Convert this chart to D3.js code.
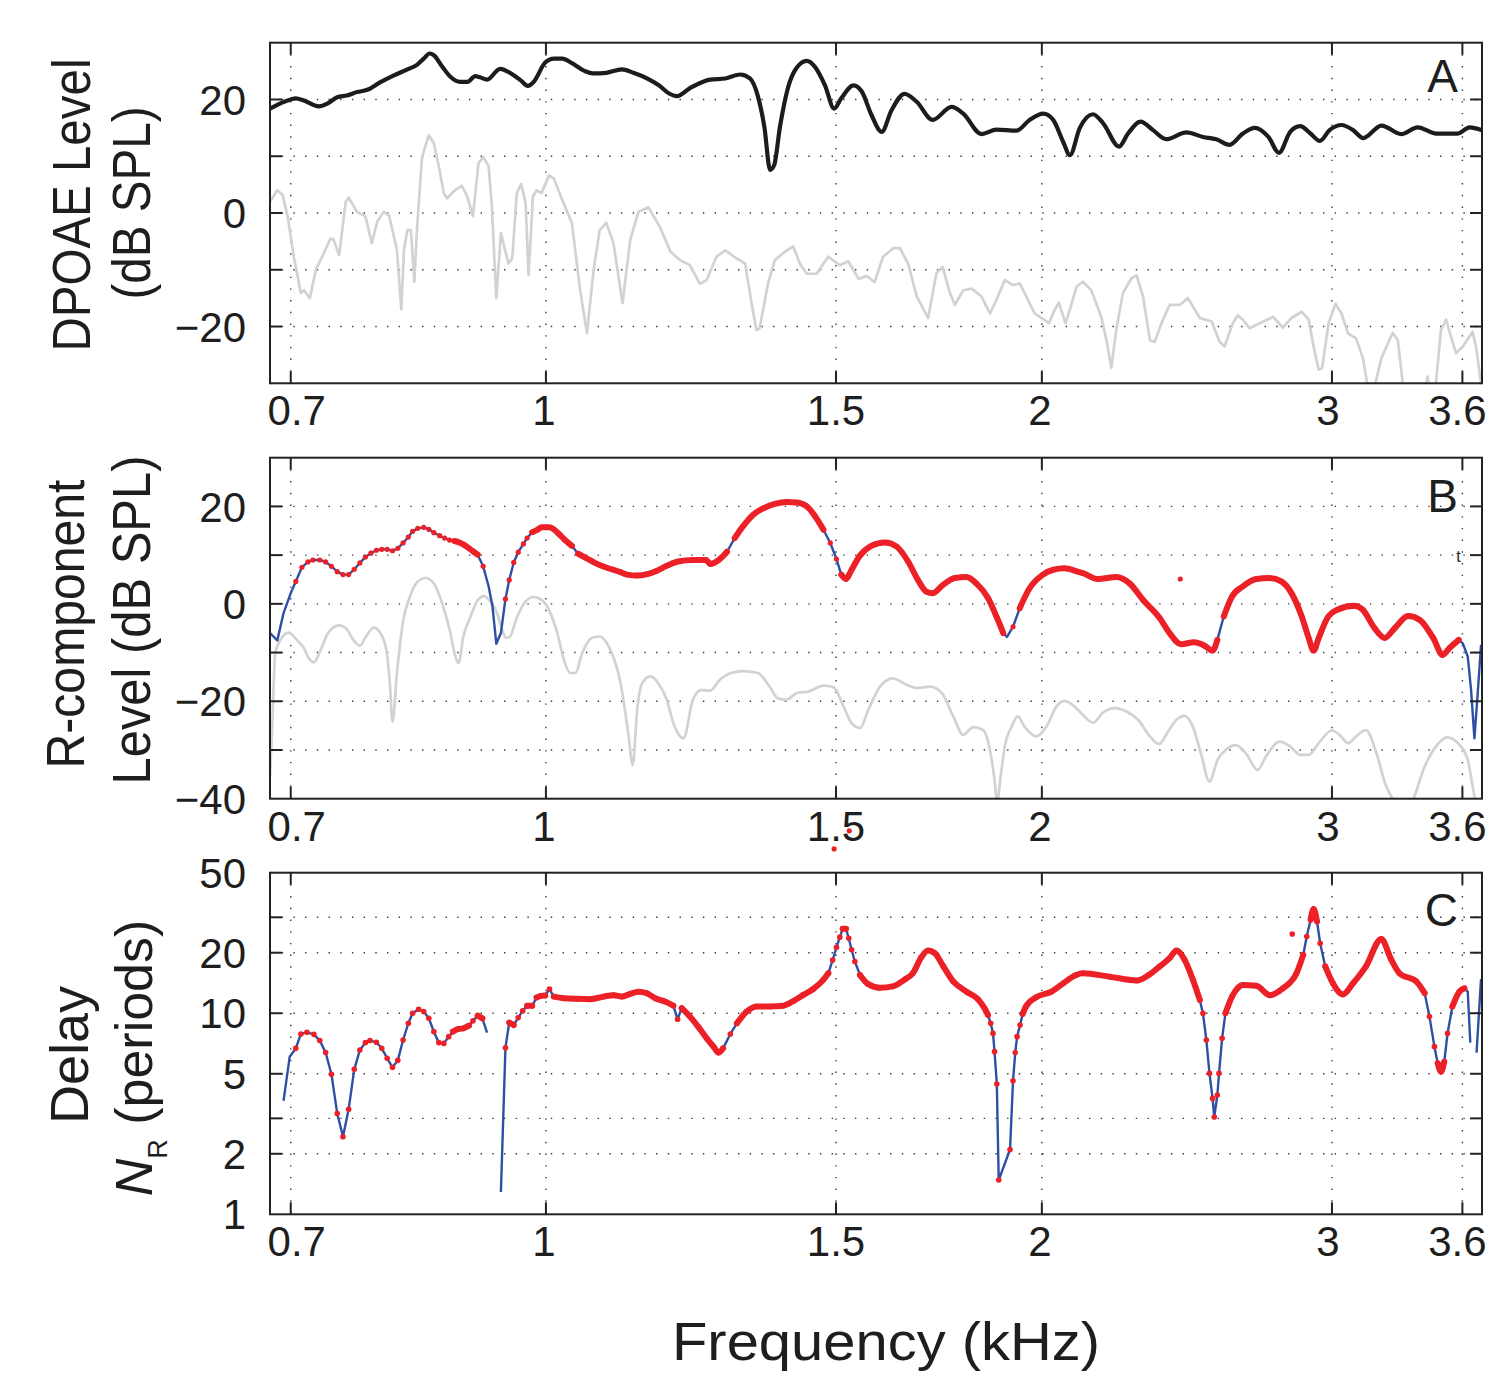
<!DOCTYPE html>
<html><head><meta charset="utf-8">
<script src="https://cdn.jsdelivr.net/npm/d3@7"></script>
<style>
body{margin:0;background:#fff}
svg{display:block}
text{font-family:"Liberation Sans",Arial,Helvetica,sans-serif;fill:#1e1e1e}
</style>
</head><body>
<svg id="chart" width="1493" height="1390"></svg>
<script>
// ---------------- DATA ----------------
const xTicks = [0.7, 1, 1.5, 2, 3, 3.6];
const xTickLabels = ["0.7", "1", "1.5", "2", "3", "3.6"];

const aTicks = [20, 10, 0, -10, -20];
const aTickLabels = [20, 0, -20];
const bTicks = [20, 10, 0, -10, -20, -30];
const bTickLabels = [20, 0, -20, -40];
const cTicks = [30, 20, 10, 5, 3, 2];
const cTickLabels = [50, 20, 10, 5, 2, 1];

// Panel A: DPOAE level (black)
const aFreq = [0.680,0.700,0.705,0.713,0.728,0.737,0.747,0.757,0.768,0.779,
0.793,0.808,0.824,0.835,0.843,0.850,0.855,0.865,0.875,0.887,
0.896,0.906,0.912,0.921,0.938,0.951,0.965,0.975,0.983,0.999,
1.011,1.023,1.037,1.056,1.068,1.088,1.112,1.130,1.154,1.171,
1.187,1.201,1.223,1.258,1.285,1.312,1.330,1.345,1.357,1.368,
1.376,1.387,1.403,1.419,1.440,1.456,1.477,1.496,1.511,1.537,
1.555,1.576,1.599,1.621,1.651,1.679,1.717,1.763,1.792,1.838,
1.877,1.930,1.966,2.004,2.032,2.060,2.080,2.109,2.148,2.179,
2.228,2.256,2.296,2.336,2.379,2.448,2.505,2.552,2.600,2.649,
2.693,2.745,2.786,2.830,2.870,2.911,2.950,2.990,3.040,3.090,
3.134,3.215,3.305,3.382,3.471,3.577,3.636,3.698];
const aLevel = [18.4,20.0,20.2,19.8,18.8,19.3,20.4,20.7,21.3,21.7,
23.0,24.2,25.3,26.1,27.2,28.1,27.8,25.8,24.0,23.1,
23.1,24.1,23.9,23.5,25.4,24.7,23.4,22.4,23.1,26.5,
27.2,27.2,26.4,25.0,24.6,24.7,25.3,24.7,23.6,22.5,
21.1,20.6,22.0,23.5,23.7,24.4,23.7,20.5,15.2,7.6,
8.5,15.2,22.2,25.5,26.8,25.8,22.5,18.4,20.2,22.5,
21.4,17.3,14.3,18.1,21.0,19.6,16.4,18.7,17.5,13.9,
14.7,14.5,16.4,17.5,16.4,12.6,10.2,15.0,17.4,15.8,
11.7,14.0,16.1,14.6,13.0,14.2,13.4,13.0,12.0,14.0,
15.0,13.4,10.6,14.3,15.3,14.0,12.7,14.6,15.5,14.6,
13.2,15.4,13.9,15.1,14.0,14.0,15.1,14.6];

// Panel A: noise floor (gray)
const aNoiseFreq = [0.680,0.687,0.692,0.697,0.703,0.710,0.713,0.719,0.725,0.733,
0.740,0.743,0.749,0.756,0.759,0.768,0.777,0.784,0.790,0.797,
0.803,0.812,0.817,0.820,0.824,0.828,0.832,0.835,0.841,0.849,
0.855,0.861,0.867,0.871,0.879,0.889,0.896,0.903,0.910,0.916,
0.923,0.927,0.933,0.939,0.949,0.954,0.960,0.966,0.972,0.976,
0.982,0.987,0.994,1.004,1.011,1.025,1.037,1.049,1.059,1.069,
1.078,1.088,1.099,1.113,1.125,1.138,1.154,1.173,1.190,1.206,
1.223,1.240,1.252,1.269,1.285,1.302,1.321,1.333,1.342,1.348,
1.364,1.377,1.397,1.413,1.426,1.440,1.460,1.474,1.484,1.508,
1.526,1.548,1.566,1.583,1.602,1.625,1.640,1.659,1.679,1.706,
1.726,1.741,1.759,1.771,1.792,1.813,1.838,1.860,1.877,1.899,
1.921,1.939,1.957,1.980,2.020,2.036,2.048,2.067,2.080,2.099,
2.118,2.143,2.173,2.189,2.204,2.219,2.240,2.267,2.283,2.304,
2.326,2.342,2.364,2.391,2.425,2.453,2.494,2.536,2.564,2.582,
2.612,2.630,2.649,2.674,2.704,2.763,2.801,2.835,2.876,2.904,
2.924,2.945,2.959,2.986,3.015,3.040,3.068,3.103,3.133,3.151,
3.169,3.188,3.214,3.266,3.289,3.312,3.328,3.406,3.429,3.445,
3.469,3.494,3.519,3.543,3.568,3.602,3.652,3.672,3.695];
const aNoise = [2.0,4.0,3.2,-0.6,-7.7,-14.1,-13.6,-15.0,-10.0,-7.1,
-4.5,-4.6,-7.4,2.0,2.7,0.2,-0.6,-5.3,-1.5,0.2,
-0.4,-6.5,-17.0,-6.5,-3.0,-3.0,-12.1,-3.0,9.9,13.7,
12.3,8.2,3.5,2.6,3.8,4.8,2.9,-0.6,8.7,9.9,
8.2,1.7,-15.0,-3.6,-8.9,-8.0,3.5,5.1,1.7,-10.9,
2.9,4.0,3.5,6.6,6.1,1.7,-1.8,-13.6,-21.2,-10.0,
-3.0,-1.7,-5.3,-15.9,-4.8,0.2,1.0,-2.5,-6.8,-8.3,
-9.2,-12.5,-11.8,-7.7,-6.6,-7.8,-8.9,-15.9,-20.6,-20.3,
-12.4,-8.3,-6.8,-5.9,-8.9,-10.7,-10.7,-8.9,-7.7,-9.2,
-8.5,-11.6,-11.1,-12.2,-7.7,-6.2,-6.2,-8.9,-14.7,-18.5,
-10.6,-9.5,-14.1,-16.2,-13.6,-13.3,-14.7,-17.7,-15.3,-11.8,
-12.7,-12.4,-14.7,-17.7,-19.4,-17.1,-15.8,-19.4,-17.0,-13.0,
-12.1,-13.6,-18.3,-22.4,-27.3,-20.6,-14.1,-11.5,-11.0,-14.7,
-22.4,-22.7,-19.4,-16.2,-16.2,-15.0,-18.5,-19.1,-22.7,-23.5,
-19.4,-18.0,-18.8,-20.3,-19.6,-18.3,-20.2,-18.5,-17.4,-18.8,
-23.5,-27.6,-27.3,-19.4,-16.0,-17.7,-21.2,-22.1,-25.6,-30,
-33,-30,-25.6,-21.1,-22.4,-30,-33,-33,-28.8,-33,
-30,-20.6,-18.8,-21.8,-24.7,-23.5,-20.9,-24.1,-30];

// Panel B: R-component level
const bFreq = [0.680,0.687,0.693,0.700,0.705,0.711,0.717,0.722,0.729,0.735,
0.741,0.747,0.753,0.759,0.765,0.771,0.777,0.783,0.789,0.795,
0.801,0.807,0.813,0.819,0.825,0.830,0.836,0.843,0.849,0.855,
0.862,0.868,0.874,0.880,0.886,0.892,0.898,0.904,0.909,0.916,
0.923,0.928,0.933,0.939,0.945,0.950,0.956,0.962,0.969,0.974,
0.981,0.988,0.994,1.004,1.011,1.018,1.027,1.037,1.046,1.058,
1.074,1.091,1.110,1.120,1.136,1.152,1.168,1.184,1.203,1.228,
1.251,1.258,1.272,1.288,1.302,1.317,1.336,1.355,1.377,1.400,
1.420,1.440,1.456,1.474,1.488,1.501,1.511,1.521,1.533,1.551,
1.576,1.606,1.632,1.659,1.682,1.702,1.717,1.742,1.771,1.800,
1.825,1.855,1.877,1.895,1.905,1.921,1.939,1.966,2.003,2.032,
2.064,2.103,2.118,2.163,2.219,2.261,2.304,2.358,2.391,2.429,
2.474,2.511,2.539,2.556,2.579,2.609,2.649,2.699,2.750,2.795,
2.835,2.876,2.904,2.924,2.945,2.981,3.023,3.095,3.132,3.184,
3.229,3.275,3.337,3.392,3.456,3.502,3.535,3.582,3.602,3.627,
3.644,3.661,3.678,3.695];
const bLevel = [-6.0,-7.5,-1.9,2.2,4.6,7.5,8.6,9.0,9.0,8.6,
7.7,6.6,6.0,6.0,7.1,8.4,9.6,10.4,11.0,11.2,
11.2,10.9,11.4,12.5,13.7,14.9,15.5,15.7,15.3,14.6,
14.0,13.5,13.1,12.9,12.6,12.1,11.4,10.7,10.1,7.7,
3.6,-0.5,-8.2,-6.0,1.0,4.9,8.5,10.6,12.3,13.5,
14.7,15.2,15.7,15.7,15.3,14.4,13.1,11.9,10.3,9.4,
8.2,7.3,6.5,6.0,5.8,6.1,6.8,7.8,8.7,9.0,
9.0,8.2,8.9,10.7,13.5,15.9,18.3,19.6,20.5,20.9,
20.8,20.0,18.1,15.2,12.5,9.2,6.0,5.1,7.0,9.9,
11.9,12.6,11.8,8.7,4.9,2.5,2.2,3.9,5.3,5.5,
4.2,1.2,-2.6,-6.0,-6.8,-4.7,-0.9,3.2,6.0,7.0,
7.3,6.6,6.3,5.1,5.5,4.2,0.8,-2.9,-6.0,-8.3,
-7.9,-8.6,-9.6,-7.4,-2.6,1.5,3.6,5.1,5.3,4.6,
2.2,-2.6,-7.0,-9.6,-7.0,-2.9,-1.2,-0.4,-1.2,-5.0,
-7.0,-5.0,-2.5,-3.3,-7.0,-10.5,-9.1,-7.4,-8.1,-10.8,
-17.7,-27.6,-18.3,-8.4];
// frequency ranges where the R-component is drawn as line only (no red dots)
const bLineOnly = [[0.67,0.701],[0.92,0.94],[1.90,1.91],[3.59,3.71]];
// isolated red points
const bOutFreq = [2.427, 1.528, 1.496];
const bOutLevel = [5.1, -46.6, -50.3];

// Panel B: noise (gray)
const bNoiseFreq = [0.680,0.682,0.685,0.690,0.698,0.706,0.713,0.718,0.723,0.730,
0.738,0.749,0.757,0.764,0.771,0.778,0.786,0.793,0.800,0.804,
0.807,0.812,0.819,0.827,0.835,0.845,0.855,0.865,0.875,0.880,
0.885,0.891,0.900,0.908,0.917,0.925,0.934,0.940,0.946,0.951,
0.960,0.972,0.983,0.994,1.004,1.016,1.026,1.035,1.042,1.052,
1.066,1.078,1.093,1.110,1.122,1.129,1.136,1.144,1.157,1.170,
1.184,1.195,1.212,1.228,1.242,1.258,1.275,1.295,1.317,1.345,
1.367,1.383,1.400,1.420,1.443,1.474,1.495,1.516,1.533,1.551,
1.569,1.595,1.624,1.655,1.679,1.710,1.739,1.767,1.792,1.817,
1.842,1.860,1.871,1.879,1.888,1.899,1.917,1.934,1.952,1.985,
2.013,2.041,2.064,2.094,2.114,2.148,2.179,2.215,2.251,2.288,
2.326,2.356,2.386,2.414,2.441,2.470,2.498,2.528,2.557,2.586,
2.623,2.660,2.704,2.736,2.788,2.830,2.870,2.904,2.945,2.999,
3.032,3.068,3.103,3.146,3.190,3.234,3.272,3.315,3.357,3.415,
3.469,3.524,3.577,3.627,3.652,3.666,3.700];
const bNoise = [-35.5,-25.9,-10.1,-7.4,-5.9,-7.4,-9.1,-11.2,-12.0,-9.4,
-5.8,-4.4,-5.2,-7.4,-8.6,-6.6,-4.9,-5.9,-9.4,-16.3,
-24.2,-14.2,-3.6,1.5,4.4,5.3,4.2,0.1,-6.0,-10.1,
-12.2,-6.7,-2.6,0.5,1.6,0.5,-1.9,-5.0,-7.0,-6.7,
-2.9,0.5,1.4,0.8,-1.2,-6.0,-11.8,-14.2,-14.2,-10.1,
-7.0,-6.7,-9.1,-16.3,-26.6,-33.1,-21.8,-16.3,-14.9,-16.3,
-19.7,-24.5,-27.6,-19.7,-17.7,-17.8,-15.6,-14.2,-13.8,-14.2,
-17.0,-19.4,-19.7,-18.3,-18.0,-16.8,-17.1,-21.1,-24.5,-25.5,
-21.8,-17.0,-15.3,-16.6,-17.3,-17.0,-18.3,-23.1,-26.9,-25.3,
-25.9,-30.0,-35.5,-40.5,-35.5,-29.3,-25.2,-23.1,-25.2,-27.2,
-25.2,-21.1,-19.9,-21.1,-22.5,-24.4,-22.3,-21.4,-22.1,-23.8,
-27.2,-28.8,-26.2,-23.8,-23.0,-25.2,-30.7,-36.5,-32.0,-30.0,
-29.0,-30.7,-34.1,-31.3,-28.3,-29.3,-31.0,-31.0,-28.6,-26.0,
-26.9,-28.6,-27.2,-25.9,-30.3,-37.2,-40.5,-43,-40.5,-33.4,
-29.3,-27.4,-28.6,-32.0,-37.5,-40.5,-44];

// Panel C: delay N_R (periods); null = gap in the line
const cFreq = [0.693,0.699,0.705,0.710,0.716,0.723,0.729,0.735,0.741,0.747,
0.753,0.759,0.765,0.771,0.777,0.782,0.789,0.795,0.801,0.807,
0.813,0.819,0.825,0.830,0.837,0.843,0.849,0.855,0.861,0.867,
0.873,0.878,0.885,0.891,0.898,0.903,0.909,0.915,0.921,0.930,
0.939,0.945,0.950,0.956,0.962,0.968,0.974,0.981,0.987,0.993,
0.999,1.005,1.011,1.025,1.044,1.063,1.084,1.099,1.112,1.125,
1.138,1.151,1.165,1.181,1.195,1.202,1.209,1.223,1.237,1.252,
1.264,1.273,1.281,1.294,1.306,1.324,1.343,1.367,1.393,1.413,
1.432,1.453,1.474,1.484,1.493,1.501,1.508,1.514,1.521,1.527,
1.533,1.540,1.551,1.569,1.595,1.624,1.651,1.670,1.690,1.706,
1.722,1.742,1.767,1.800,1.829,1.846,1.855,1.862,1.868,1.872,
1.878,1.883,1.913,1.921,1.927,1.932,1.940,1.947,1.956,1.983,
2.027,2.061,2.098,2.118,2.199,2.284,2.322,2.358,2.391,2.414,
2.441,2.470,2.494,2.505,2.517,2.528,2.539,2.545,2.556,2.562,
2.573,2.585,2.609,2.649,2.699,2.750,2.801,2.855,2.882,2.896,
2.912,2.924,2.938,2.951,2.972,3.004,3.046,3.090,3.146,3.214,
3.259,3.297,3.375,3.415,3.438,3.462,3.478,3.494,3.510,3.526,
3.550,3.585,3.610,3.627,3.640,3.656,3.672,3.695];
const cDelay = [3.67,6.08,6.69,7.89,8.04,7.85,7.31,6.37,4.97,3.17,
2.43,3.33,5.26,6.56,7.14,7.31,7.17,6.69,5.97,5.38,
5.83,7.36,8.91,10.0,10.47,10.19,9.44,8.10,7.14,7.08,
7.65,8.10,8.35,8.42,8.68,9.16,9.73,9.44,8.01,null,
1.29,6.74,8.99,8.74,9.51,10.27,10.88,10.88,11.97,12.2,
12.25,13.2,12.1,11.88,11.79,11.75,12.1,12.3,12.1,12.5,
12.8,12.6,11.88,11.43,10.9,9.33,10.6,9.62,8.58,7.5,
6.82,6.37,6.69,7.89,8.91,10.19,10.8,10.8,10.9,11.5,
12.3,13.2,14.7,15.8,18.4,21.3,23.9,26.3,26.3,23.6,
20.7,18.1,15.5,13.95,13.4,13.6,14.7,15.8,19.0,20.5,
19.9,17.2,14.4,12.8,11.75,10.6,9.8,8.91,7.94,6.44,
4.45,1.48,2.10,4.61,6.37,7.65,8.74,9.92,10.8,11.97,
12.8,14.1,15.5,15.8,15.2,14.55,15.5,17.1,18.8,20.5,
18.5,14.7,11.65,10.0,7.36,5.02,3.77,3.05,3.92,5.02,
7.5,10.0,12.1,13.8,13.7,12.3,13.3,15.8,19.5,24.1,
29.2,33.0,28.6,22.3,17.1,14.1,12.4,14.1,17.1,23.4,
18.5,15.8,14.4,12.6,9.62,6.82,5.64,5.12,5.74,7.94,
10.8,12.8,13.3,12.8,7.14,null,6.37,14.8];
const cLineOnly = [[0.67,0.701],[0.92,0.94],[3.62,3.71]];
const cOutFreq = [2.838];
const cOutDelay = [24.8];

// ---------------- LAYOUT / STYLE ----------------
const svg = d3.select("#chart");
const X0 = 270, X1 = 1482;
const x = d3.scaleLog().domain([0.68, 3.7]).range([X0, X1]);

const COL = {black:"#1c1c1c", gray:"#d2d2d2", blue:"#2f4fa6", red:"#ec2027", frame:"#222"};

const panels = [
  {id:"A", top:42.7, bottom:383.3, yScale:d3.scaleLinear().domain([-30,30]), ticks:aTicks, labels:aTickLabels},
  {id:"B", top:457.7, bottom:798.7, yScale:d3.scaleLinear().domain([-40,30]), ticks:bTicks, labels:bTickLabels},
  {id:"C", top:872.7, bottom:1214.3, yScale:d3.scaleLog().domain([1,50]), ticks:cTicks, labels:cTickLabels}
];
panels.forEach(p => p.yScale.range([p.bottom, p.top]));

const fmt = v => v < 0 ? "\u2212" + Math.abs(v) : String(v);
const xLabelShift = {"0.7":6, "1":-2, "2":-2, "3":-4, "3.6":-5};

const defs = svg.append("defs");

panels.forEach(p => {
  const g = svg.append("g");
  const y = p.yScale;
  defs.append("clipPath").attr("id","clip"+p.id).append("rect")
    .attr("x",X0).attr("y",p.top).attr("width",X1-X0).attr("height",p.bottom-p.top);
  p.g = g;
  const grid = g.append("g").attr("stroke","#3a3a3a").attr("stroke-width",1.4)
    .attr("stroke-dasharray","1.4 10.3").attr("fill","none");
  p.ticks.forEach(t => grid.append("line").attr("x1",X0).attr("x2",X1).attr("y1",y(t)).attr("y2",y(t)));
  xTicks.forEach(t => grid.append("line").attr("x1",x(t)).attr("x2",x(t)).attr("y1",p.top).attr("y2",p.bottom));
  p.plot = g.append("g");
});

function lineGen(yS, curve){
  return d3.line().defined(d => d[1] != null).x(d => x(d[0])).y(d => yS(d[1])).curve(curve || d3.curveLinear);
}
const zipped = (f, v) => f.map((d,i) => [d, v[i]]);
const inRanges = (f, ranges) => ranges.some(r => f >= r[0] && f <= r[1]);

function drawSig(p, fr, vals, lineOnly, r, bw){
  const y = p.yScale;
  const pts = zipped(fr, vals).filter(d => d[1] != null && !inRanges(d[0], lineOnly));
  // where the original sampling is dense, overlapping dots read as a continuous band
  const runs = []; let cur = null;
  for (let i = 0; i < fr.length-1; i++){
    let ok = vals[i]!=null && vals[i+1]!=null && !inRanges(fr[i],lineOnly) && !inRanges(fr[i+1],lineOnly);
    if (ok){
      const x1=x(fr[i]), x2=x(fr[i+1]), y1=y(vals[i]), y2=y(vals[i+1]);
      const slope = Math.abs((y2-y1)/(x2-x1));
      const step = x(fr[i]+0.0065) - x(fr[i]);
      ok = step < 5.3 && step*Math.sqrt(1+slope*slope) < 6.6;
    }
    if (ok){
      if (!cur){ cur = [[fr[i],vals[i]]]; runs.push(cur); }
      cur.push([fr[i+1],vals[i+1]]);
    } else cur = null;
  }
  p.plot.append("g").selectAll("path").data(runs).join("path")
    .attr("d", lineGen(y, d3.curveMonotoneX)).attr("fill","none")
    .attr("stroke",COL.red).attr("stroke-width",bw).attr("stroke-linecap","round").attr("stroke-linejoin","round");
  p.plot.append("g").attr("fill",COL.red).selectAll("circle").data(pts).join("circle")
    .attr("cx",d=>x(d[0])).attr("cy",d=>y(d[1])).attr("r",r);
}

// Panel A
{
  const p = panels[0], y = p.yScale;
  p.plot.append("path").attr("clip-path","url(#clipA)").datum(zipped(aNoiseFreq,aNoise))
    .attr("d", lineGen(y)).attr("fill","none").attr("stroke",COL.gray).attr("stroke-width",2.7).attr("stroke-linejoin","round");
  p.plot.append("path").attr("clip-path","url(#clipA)").datum(zipped(aFreq,aLevel))
    .attr("d", lineGen(y, d3.curveMonotoneX)).attr("fill","none").attr("stroke",COL.black).attr("stroke-width",4.2).attr("stroke-linejoin","round");
}
// Panel B
{
  const p = panels[1], y = p.yScale;
  p.plot.append("path").attr("clip-path","url(#clipB)").datum(zipped(bNoiseFreq,bNoise))
    .attr("d", lineGen(y, d3.curveMonotoneX)).attr("fill","none").attr("stroke",COL.gray).attr("stroke-width",2.7);
  p.plot.append("path").attr("clip-path","url(#clipB)").datum(zipped(bFreq,bLevel))
    .attr("d", lineGen(y)).attr("fill","none").attr("stroke",COL.blue).attr("stroke-width",2.4).attr("stroke-linejoin","round");
  drawSig(p, bFreq, bLevel, bLineOnly, 2.6, 6);
  p.plot.append("g").attr("fill",COL.red).selectAll("circle").data(zipped(bOutFreq,bOutLevel)).join("circle")
    .attr("cx",d=>x(d[0])).attr("cy",d=>y(d[1])).attr("r",2.6);
  p.plot.append("text").attr("x",x(3.58)).attr("y",y(8.5)).attr("font-size",16).attr("text-anchor","middle").text("t");
}
// Panel C
{
  const p = panels[2], y = p.yScale;
  p.plot.append("path").attr("clip-path","url(#clipC)").datum(zipped(cFreq,cDelay))
    .attr("d", lineGen(y)).attr("fill","none").attr("stroke",COL.blue).attr("stroke-width",2.4).attr("stroke-linejoin","round");
  drawSig(p, cFreq, cDelay, cLineOnly, 2.8, 6);
  p.plot.append("g").attr("fill",COL.red).selectAll("circle").data(zipped(cOutFreq,cOutDelay)).join("circle")
    .attr("cx",d=>x(d[0])).attr("cy",d=>y(d[1])).attr("r",2.8);
}

// frames, ticks, labels
panels.forEach(p => {
  const g = p.g, y = p.yScale;
  const tk = g.append("g").attr("stroke",COL.frame).attr("stroke-width",2);
  p.ticks.forEach(t => {
    tk.append("line").attr("x1",X0).attr("x2",X0+12).attr("y1",y(t)).attr("y2",y(t));
    tk.append("line").attr("x1",X1-12).attr("x2",X1).attr("y1",y(t)).attr("y2",y(t));
  });
  xTicks.forEach(t => {
    tk.append("line").attr("x1",x(t)).attr("x2",x(t)).attr("y1",p.bottom).attr("y2",p.bottom-12);
    tk.append("line").attr("x1",x(t)).attr("x2",x(t)).attr("y1",p.top).attr("y2",p.top+12);
  });
  g.append("rect").attr("x",X0).attr("y",p.top).attr("width",X1-X0).attr("height",p.bottom-p.top)
    .attr("fill","none").attr("stroke",COL.frame).attr("stroke-width",2);
  g.append("g").selectAll("text").data(p.labels).join("text")
    .attr("x",246).attr("y",d=>y(d)).attr("dy","0.36em").attr("text-anchor","end")
    .attr("font-size",42).text(fmt);
  g.append("g").selectAll("text").data(xTicks).join("text")
    .attr("x",(d,i)=>x(d)+(xLabelShift[xTickLabels[i]]||0)).attr("y",p.bottom+42)
    .attr("text-anchor","middle").attr("font-size",42).text((d,i)=>xTickLabels[i]);
});

// panel letters
[["A",91.7],["B",511.7],["C",926]].forEach(l => {
  svg.append("text").attr("x",1458).attr("y",l[1]).attr("text-anchor","end").attr("font-size",46).text(l[0]);
});

// axis titles (rotated)
function vTitle(txt, bx, cy, len, fs){
  const t = svg.append("text").attr("transform",`translate(${bx},${cy}) rotate(-90)`)
    .attr("text-anchor","middle").attr("font-size",fs).text(txt);
  if (len) t.attr("textLength",len).attr("lengthAdjust","spacingAndGlyphs");
  return t;
}
vTitle("DPOAE Level", 90, 205, 293, 53);
vTitle("(dB SPL)", 150, 203, 193, 53);
vTitle("R-component", 84, 624, 289, 53);
vTitle("Level (dB SPL)", 150, 620, 329, 53);
vTitle("Delay", 88, 1055, 138, 53);
{
  const t = svg.append("text").attr("transform",`translate(152,1058) rotate(-90)`)
    .attr("text-anchor","middle").attr("font-size",52);
  t.append("tspan").attr("font-style","italic").text("N");
  t.append("tspan").attr("dy",15).attr("font-size",27).text("R");
  t.append("tspan").attr("dy",-15).text(" (periods)");
}
svg.append("text").attr("x",886).attr("y",1360).attr("text-anchor","middle").attr("font-size",53)
  .attr("textLength",428).attr("lengthAdjust","spacingAndGlyphs").text("Frequency (kHz)");
</script>
</body></html>
